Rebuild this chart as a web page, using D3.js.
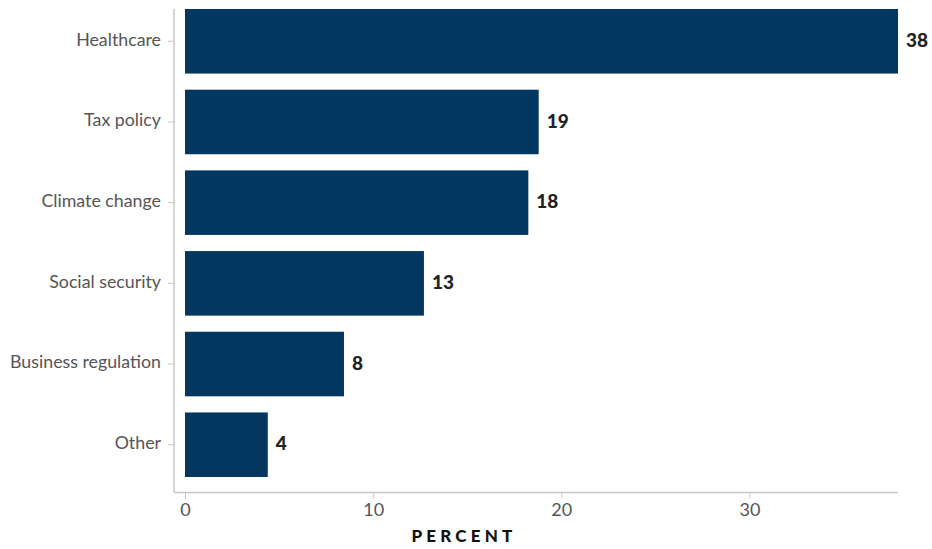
<!DOCTYPE html>
<html>
<head>
<meta charset="utf-8">
<script src="https://cdn.jsdelivr.net/npm/d3@7"></script>
<style>
  html, body { margin: 0; padding: 0; background: #fff; }
  svg { display: block; }
</style>
</head>
<body>
<svg id="chart" width="932" height="549"></svg>
<script>
const categories = ["Healthcare", "Tax policy", "Climate change", "Social security", "Business regulation", "Other"];
const values = [37.9, 18.8, 18.25, 12.7, 8.45, 4.4];
const valueLabels = ["38", "19", "18", "13", "8", "4"];
const xTicks = [0, 10, 20, 30];
const xTitle = "PERCENT";

const svg = d3.select("#chart");
const W = 932, H = 549;
const axisLeft = 174, axisBottom = 492.5;
const x0 = 185, x1 = 898;

const x = d3.scaleLinear().domain([0, d3.max(values)]).range([x0, x1]);
const y = d3.scaleBand().domain(categories).range([9, 477]).paddingInner(0.2).paddingOuter(0);

const data = categories.map((c, i) => ({ c, v: values[i], l: valueLabels[i] }));

// bars
svg.append("g").selectAll("rect").data(data).join("rect")
  .attr("x", x(0))
  .attr("y", d => y(d.c))
  .attr("width", d => x(d.v) - x(0))
  .attr("height", y.bandwidth())
  .attr("fill", "#03375f");

// value labels
svg.append("g").selectAll("text").data(data).join("text")
  .attr("x", d => x(d.v) + 8)
  .attr("y", d => y(d.c) + y.bandwidth() / 2)
  .attr("dy", "0.3em")
  .attr("font-family", "Lato, sans-serif")
  .attr("font-weight", 900)
  .attr("font-size", 19)
  .attr("fill", "#222")
  .text(d => d.l);

// y axis
const yAxis = svg.append("g").attr("transform", `translate(${axisLeft},0)`)
  .call(d3.axisLeft(y).tickSize(6).tickPadding(7));
yAxis.select(".domain").remove();
yAxis.selectAll(".tick line").attr("stroke", "#c8c8c8");
yAxis.selectAll(".tick text")
  .attr("dy", "0.25em")
  .attr("font-family", "Lato, sans-serif").attr("font-size", 17.8).attr("fill", "#555");
svg.append("line")
  .attr("x1", axisLeft).attr("x2", axisLeft)
  .attr("y1", 9).attr("y2", axisBottom)
  .attr("stroke", "#c8c8c8").attr("stroke-width", 1.5);

// x axis
const xAxis = svg.append("g").attr("transform", `translate(0,${axisBottom})`)
  .call(d3.axisBottom(x).tickValues(xTicks).tickSize(6).tickPadding(5));
xAxis.select(".domain").remove();
xAxis.selectAll(".tick line").attr("stroke", "#c8c8c8");
xAxis.selectAll(".tick text")
  .attr("font-family", "Lato, sans-serif").attr("font-size", 18).attr("fill", "#555");
svg.append("line")
  .attr("x1", axisLeft).attr("x2", x1)
  .attr("y1", axisBottom).attr("y2", axisBottom)
  .attr("stroke", "#c8c8c8").attr("stroke-width", 1.5);

// x title
svg.append("text")
  .attr("x", W / 2 - 2)
  .attr("y", 542)
  .attr("text-anchor", "middle")
  .attr("font-family", "Lato, sans-serif")
  .attr("font-weight", 900)
  .attr("font-size", 17)
  .attr("letter-spacing", "4.2px")
  .attr("fill", "#111")
  .text(xTitle);
</script>
</body>
</html>
